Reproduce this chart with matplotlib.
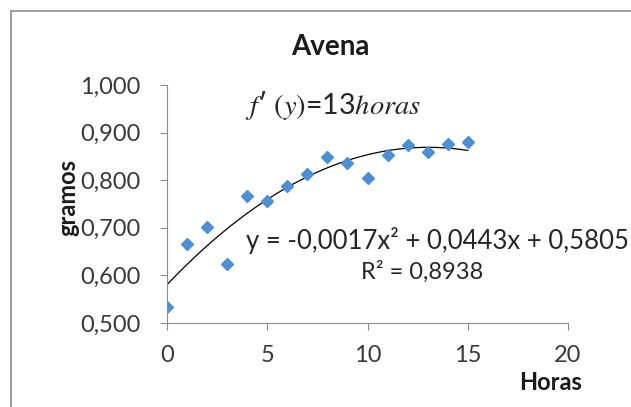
import numpy as np
import matplotlib
matplotlib.use("Agg")
import matplotlib.pyplot as plt
from matplotlib.patches import Rectangle

plt.rcParams['font.family'] = ['Lato', 'DejaVu Sans']
plt.rcParams['mathtext.fontset'] = 'stix'

# datos
horas = [0, 1, 2, 3, 4, 5, 6, 7, 8, 9, 10, 11, 12, 13, 14, 15]
gramos = [0.534, 0.666, 0.702, 0.625, 0.767, 0.757, 0.788, 0.814,
          0.849, 0.837, 0.805, 0.853, 0.873, 0.859, 0.876, 0.880]
coef = [-0.0017, 0.0443, 0.5805]
yticks = [0.5, 0.6, 0.7, 0.8, 0.9, 1.0]
ytick_labels = ['0,500', '0,600', '0,700', '0,800', '0,900', '1,000']
xticks = [0, 5, 10, 15, 20]

fig = plt.figure(figsize=(6.31, 4.07), dpi=100)
# marco del area del grafico
fig.patches.append(Rectangle((11 / 631, -0.1), 1.2, (407 - 11) / 407 + 0.1,
                             transform=fig.transFigure, fill=False,
                             edgecolor='#8c8c8c', linewidth=1.2))

ax = fig.add_axes([167 / 631, 84 / 407, 401 / 631, 238 / 407])

xs = np.linspace(0, 15, 200)
ax.plot(xs, np.polyval(coef, xs), color='black', linewidth=0.9)
ax.plot(horas, gramos, linestyle='none', marker='D', markersize=6.5,
        color='#4f8fcf', markeredgecolor='#4f8fcf')

ax.set_xlim(0, 20)
ax.set_ylim(0.5, 1.0)
ax.set_xticks(xticks)
ax.set_yticks(yticks)
ax.set_yticklabels(ytick_labels)
for s in ['top', 'right']:
    ax.spines[s].set_visible(False)
for s in ['left', 'bottom']:
    ax.spines[s].set_color('#8c8c8c')
ax.tick_params(colors='#8c8c8c', labelcolor='#383838', labelsize=17,
               length=5, direction='out')
ax.tick_params(axis='x', pad=11)
ax.tick_params(axis='y', pad=14)

fig.text(330 / 631, 1 - 47 / 407, 'Avena', ha='center', va='center',
         fontsize=20, fontweight='bold', color='#1a1a1a')
fig.text(68 / 631, 1 - 197 / 407, 'gramos', ha='center', va='center',
         rotation=90, fontsize=17, fontweight='bold', color='#1a1a1a')
fig.text(551 / 631, 1 - 383 / 407, 'Horas', ha='center', va='center',
         fontsize=17, fontweight='bold', color='#1a1a1a')

fig.text(245 / 631, 1 - 106 / 407, r"$f$′ $(y)$=13$horas$",
         ha='left', va='center', fontsize=20.5, color='#262626')
fig.text(246 / 631, 1 - 240 / 407, 'y = -0,0017x² + 0,0443x + 0,5805',
         ha='left', va='center', fontsize=18.5, color='#262626')
fig.text(422 / 631, 1 - 272 / 407, 'R² = 0,8938', ha='center', va='center',
         fontsize=17, color='#262626')

fig.savefig('out.png', dpi=100)
